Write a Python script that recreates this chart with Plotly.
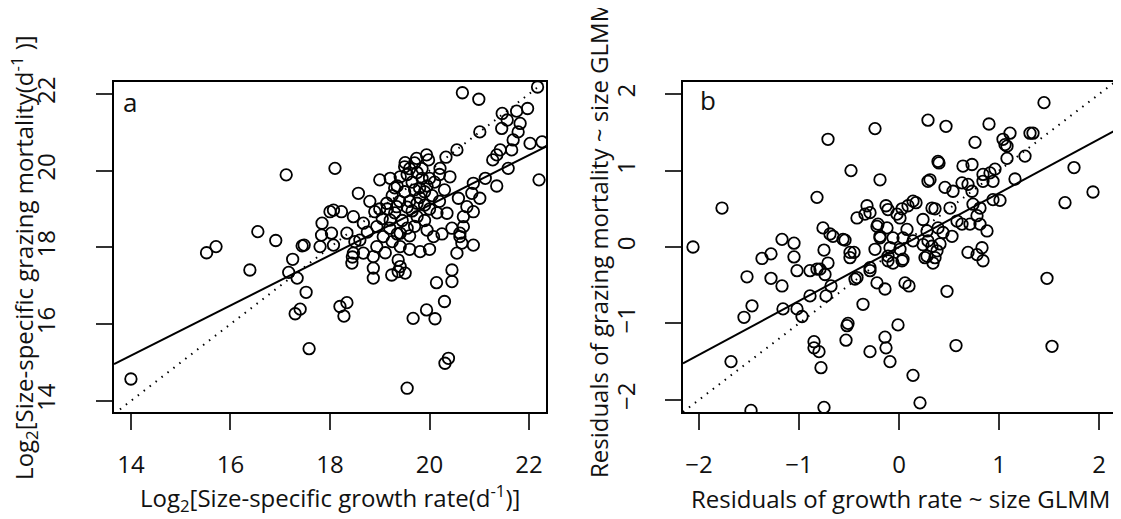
import plotly.graph_objects as go

# ---------------- Panel a data ----------------
a_growth = [
    14.00, 15.52, 15.71, 16.39, 16.55, 16.91, 17.12, 17.17, 17.25, 17.34,
    17.44, 17.52, 17.30, 17.40, 17.58, 17.80, 17.83, 17.84, 18.00, 18.10,
    20.66, 20.99, 22.17, 21.46, 21.75, 21.97, 21.56, 21.82, 21.45, 21.78,
    21.01, 21.68, 21.42, 21.65, 22.02, 22.26, 21.27, 21.35, 21.58, 22.20,
    20.55, 20.33, 21.12, 21.35, 20.88, 21.01, 20.85, 18.57, 19.00, 19.21,
    19.51, 19.74, 19.98, 20.21, 20.41, 19.41, 18.07, 18.23, 18.03, 17.48,
    18.47, 18.67, 18.34, 18.60, 18.90, 18.94, 19.14, 19.21, 19.34, 19.07,
    19.41, 18.94, 19.41, 19.81, 20.08, 20.35, 20.58, 20.75, 20.68, 20.88,
    20.45, 20.68, 20.61, 20.65, 20.88, 20.55, 18.47, 18.07, 18.44, 18.45,
    18.87, 18.87, 18.87, 19.11, 19.37, 19.24, 19.37, 19.51, 19.41, 18.20,
    18.34, 18.28, 19.67, 19.94, 20.11, 20.30, 20.14, 20.45, 20.45, 20.38,
    20.31, 19.55, 18.50, 18.67, 20.61, 19.94,
    19.55, 19.65, 19.75, 19.85, 19.95, 19.70, 19.80, 19.90, 19.60, 19.50,
    19.40, 19.65, 19.75, 19.90, 20.00, 20.05, 20.10, 19.85, 19.60, 19.35,
    19.30, 19.45, 19.55, 19.70, 19.95, 20.15, 20.20, 19.25, 19.15, 19.05,
    19.20, 19.35, 19.60, 19.80, 19.75, 19.55, 19.90, 20.00, 19.70, 19.50,
    19.00, 18.80, 19.30, 18.75, 19.25, 19.60, 20.00, 20.25, 20.30, 20.20,
]
a_mortality = [
    14.57, 17.86, 18.02, 17.41, 18.41, 18.18, 19.89, 17.35, 17.69, 17.20,
    18.04, 16.83, 16.27, 16.39, 15.36, 18.02, 18.32, 18.63, 18.93, 20.06,
    22.03, 21.86, 22.18, 21.49, 21.55, 21.62, 21.32, 21.23, 21.10, 21.01,
    21.01, 20.80, 20.54, 20.54, 20.71, 20.75, 20.28, 20.41, 20.06, 19.76,
    20.54, 20.35, 19.80, 19.60, 19.67, 19.28, 19.41, 19.41, 19.76, 19.80,
    20.21, 20.32, 20.28, 20.06, 19.84, 19.84, 18.97, 18.93, 18.37, 18.06,
    18.80, 18.63, 18.37, 18.19, 18.93, 18.54, 19.15, 18.71, 19.06, 18.28,
    18.37, 18.02, 18.02, 17.89, 18.28, 18.89, 19.28, 19.06, 18.80, 18.93,
    18.50, 18.54, 18.28, 18.11, 18.06, 17.85, 17.85, 18.06, 17.59, 17.75,
    17.76, 17.46, 17.20, 17.86, 17.67, 17.28, 17.37, 17.33, 17.50, 16.46,
    16.56, 16.21, 16.15, 16.37, 16.14, 16.59, 17.08, 17.11, 17.41, 15.11,
    14.98, 14.33, 18.15, 17.85, 18.37, 20.41,
    19.90, 19.70, 19.95, 19.80, 19.60, 19.50, 19.30, 19.10, 19.20, 19.45,
    19.20, 18.95, 18.80, 18.70, 19.00, 19.35, 19.70, 20.05, 20.05, 19.60,
    18.90, 18.70, 18.50, 18.55, 18.45, 18.90, 19.20, 19.35, 19.00, 18.75,
    18.50, 18.35, 18.30, 19.55, 19.15, 19.05, 19.45, 19.80, 20.20, 20.10,
    19.00, 19.20, 19.55, 18.40, 18.15, 17.95, 17.95, 18.35, 19.50, 19.90,
]
a_fit = [6.04, 0.653]          # intercept, slope of solid line
a_xrange = [13.66, 22.34]
a_yrange = [13.71, 22.31]
a_ticks = [14, 16, 18, 20, 22]

# ---------------- Panel b data ----------------
b_growth = [
    -2.06, -1.77, -1.68, -1.48, -1.55, -1.47, -1.52, -1.37, -1.28, -1.28,
    -1.17, -1.17, -1.05, -1.05, -1.02, -1.16, -1.02, -0.97, -0.89, -0.89,
    -0.82, -0.76, -0.71, -0.69, -0.66, -0.75, -0.71, -0.79, -0.74, -0.73,
    -0.68, -0.85, -0.85, -0.80, -0.78, -0.75, -0.54, -0.49, -0.45, -0.48,
    -0.52, -0.51, -0.53, -0.44, -0.42, -0.36, -0.29, -0.42, -0.32, -0.29,
    -0.34, -0.24, -0.19, -0.29, -0.24, -0.22, -0.22, -0.19, 0.29, 0.47,
    0.90, 0.76, 1.04, 1.11, 1.08, 1.08, 1.26, 1.31, 0.39, 0.40,
    0.29, 0.31, 0.46, 0.54, 0.64, 0.73, 0.63, 0.69, 0.73, 0.84,
    0.91, 0.96, 0.84, 0.94, 1.16, 0.94, 1.01, 0.74, 0.81, 0.78,
    0.81, 0.88, 0.83, 0.78, 0.69, 0.84, 0.63, 0.58, 0.51, 0.53,
    0.33, 0.36, 0.14, 0.17, 0.09, 0.24, 0.28, 0.29, 0.33, 0.38,
    0.28, 0.41, 0.44, 0.39, 0.08, 0.01, -0.02, -0.11, -0.13, -0.21,
    -0.12, -0.19, -0.06, 0.04, 0.14, -0.09, 0.01, -0.56, -0.49, -0.82,
    -0.11, -0.06, 0.04, 0.36, 0.34, 1.45, 1.75, 1.94, 1.66, 1.48,
    1.53, 0.57, 0.48, 0.14, 0.21, -0.01, -0.14, -0.13, -0.09, 1.34,
    1.06, 0.71, 0.26, 0.24, 0.06, 0.10, -0.14, -0.29, -0.11, 0.03,
    0.03,
]
b_mortality = [
    0.00, 0.51, -1.50, -2.14, -0.92, -0.77, -0.39, -0.15, -0.09, -0.41,
    -0.51, 0.10, 0.05, -0.13, -0.31, -0.81, -0.81, -0.91, -0.31, -0.64,
    0.65, 0.25, 1.41, 0.17, 0.14, -0.04, -0.21, -0.29, -0.36, -0.64,
    -0.51, -1.24, -1.32, -1.37, -1.58, -2.10, 0.09, -0.14, -0.07, 1.00,
    -1.03, -1.00, -1.22, -0.42, -0.40, -0.75, -1.37, 0.38, 0.54, 0.45,
    0.43, 1.55, 0.88, -0.31, -0.03, 0.27, -0.47, 0.12, 1.66, 1.58,
    1.61, 1.37, 1.41, 1.49, 1.32, 1.16, 1.19, 1.49, 1.12, 1.10,
    0.86, 0.88, 0.78, 0.73, 1.06, 1.08, 0.84, 0.82, 0.73, 0.95,
    0.97, 1.02, 0.86, 0.86, 0.89, 0.62, 0.61, 0.56, 0.51, 0.41,
    0.30, 0.21, -0.01, -0.10, -0.07, -0.18, 0.30, 0.34, 0.51, 0.14,
    0.51, 0.50, 0.60, 0.58, 0.54, 0.36, 0.21, 0.08, 0.01, -0.05,
    -0.12, 0.04, 0.19, 0.25, 0.23, 0.38, 0.43, 0.49, 0.54, 0.30,
    0.25, 0.14, 0.12, 0.12, 0.08, -0.01, -0.03, 0.10, -0.07, -0.29,
    -0.12, -0.21, -0.16, -0.14, -0.21, 1.89, 1.04, 0.72, 0.58, -0.41,
    -1.30, -1.29, -0.58, -1.68, -2.04, -1.02, -1.18, -1.32, -1.50, 1.49,
    1.34, 0.30, -0.14, 0.03, -0.47, -0.51, -0.55, -0.27, -0.18, -0.18,
    0.50,
]
b_fit = [0.0, 0.706]
b_xrange = [-2.16, 2.15]
b_yrange = [-2.16, 2.16]
b_ticks = [-2, -1, 0, 1, 2]
b_ticktext = ["\u22122", "\u22121", "0", "1", "2"]

panel_labels = ["a", "b"]
a_xtitle = "Log<sub>2</sub>[Size-specific growth rate(d<sup>-1</sup>)]"
a_ytitle = "Log<sub>2</sub>[Size-specific grazing mortality(d<sup>-1</sup> )]"
b_xtitle = "Residuals of growth rate ~ size GLMM"
b_ytitle = "Residuals of grazing mortality ~ size GLMM"

FONT = "Open Sans, Liberation Sans, DejaVu Sans, sans-serif"
TXT = "#111"

fig = go.Figure()

marker = dict(symbol="circle-open", size=11.5, color="black", line=dict(width=1.8, color="black"))

fig.add_trace(go.Scatter(x=a_growth, y=a_mortality, mode="markers", marker=marker,
                         xaxis="x", yaxis="y", showlegend=False))
fig.add_trace(go.Scatter(x=a_xrange, y=[a_fit[0] + a_fit[1] * v for v in a_xrange], mode="lines",
                         line=dict(color="black", width=2), xaxis="x", yaxis="y", showlegend=False))
fig.add_trace(go.Scatter(x=a_xrange, y=a_xrange, mode="lines",
                         line=dict(color="black", width=2, dash="1.5px,6px"), xaxis="x", yaxis="y", showlegend=False))

fig.add_trace(go.Scatter(x=b_growth, y=b_mortality, mode="markers", marker=marker,
                         xaxis="x2", yaxis="y2", showlegend=False))
fig.add_trace(go.Scatter(x=b_xrange, y=[b_fit[0] + b_fit[1] * v for v in b_xrange], mode="lines",
                         line=dict(color="black", width=2), xaxis="x2", yaxis="y2", showlegend=False))
fig.add_trace(go.Scatter(x=b_xrange, y=b_xrange, mode="lines",
                         line=dict(color="black", width=2, dash="1.5px,6px"), xaxis="x2", yaxis="y2", showlegend=False))

common = dict(showgrid=False, zeroline=False, showline=True, mirror=True, linecolor="black",
              linewidth=2, ticks="outside", ticklen=16, tickwidth=1.5, tickcolor="#333",
              tickfont=dict(family=FONT, size=24, color=TXT), automargin=False)

# the page body adds an 8px offset, so the figure is 8px smaller and margins shifted
fig.update_layout(
    width=1113, height=511,
    margin=dict(l=106, r=7, t=74, b=107, autoexpand=False),
    paper_bgcolor="white", plot_bgcolor="white",
    xaxis=dict(domain=[0, 0.432], range=a_xrange, tickvals=a_ticks, anchor="y",
               ticklabelstandoff=14, **common),
    yaxis=dict(domain=[0, 1], range=a_yrange, tickvals=a_ticks, anchor="x", tickangle=-90,
               ticklabelstandoff=31, **common),
    xaxis2=dict(domain=[0.569, 1.0], range=b_xrange, tickvals=b_ticks, ticktext=b_ticktext, anchor="y2",
                ticklabelstandoff=14, **common),
    yaxis2=dict(domain=[0, 1], range=b_yrange, tickvals=b_ticks, ticktext=b_ticktext, anchor="x2",
                tickangle=-90, ticklabelstandoff=20, **common),
    annotations=[
        dict(text=panel_labels[0], xref="x domain", yref="y domain", x=0.037, y=0.94,
             showarrow=False, font=dict(family=FONT, size=26, color=TXT), xanchor="center", yanchor="middle"),
        dict(text=panel_labels[1], xref="x2 domain", yref="y2 domain", x=0.058, y=0.945,
             showarrow=False, font=dict(family=FONT, size=26, color=TXT), xanchor="center", yanchor="middle"),
        dict(text=a_xtitle, xref="paper", yref="paper", x=0.216, y=-0.262, showarrow=False,
             xanchor="center", yanchor="middle", font=dict(family=FONT, size=24, color=TXT)),
        dict(text=b_xtitle, xref="paper", yref="paper", x=0.786, y=-0.262, showarrow=False,
             xanchor="center", yanchor="middle", font=dict(family=FONT, size=24, color=TXT)),
        dict(text=a_ytitle, xref="paper", yref="paper", x=-0.09, y=0.467, showarrow=False, textangle=-90,
             xanchor="center", yanchor="middle", font=dict(family=FONT, size=24, color=TXT)),
        dict(text=b_ytitle, xref="paper", yref="paper", x=0.484, y=0.521, showarrow=False, textangle=-90,
             xanchor="center", yanchor="middle", font=dict(family=FONT, size=24, color=TXT)),
    ],
)

fig.write_html("out.html")
